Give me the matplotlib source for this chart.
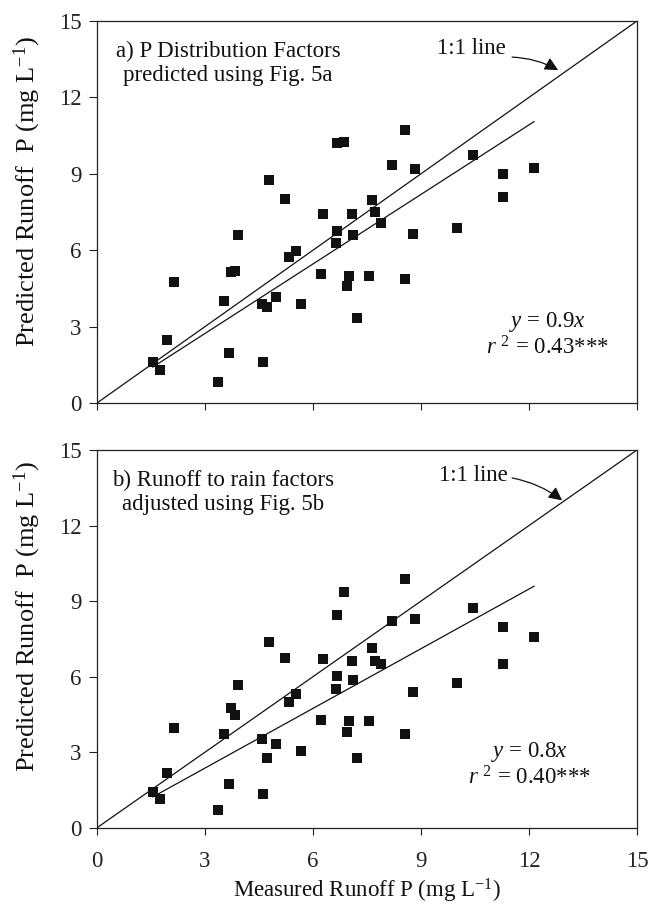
import matplotlib
matplotlib.use("Agg")
import matplotlib.pyplot as plt

plt.rcParams['font.family'] = ['Liberation Serif', 'DejaVu Serif']
plt.rcParams['mathtext.fontset'] = 'custom'
plt.rcParams['mathtext.rm'] = 'Liberation Serif'
plt.rcParams['mathtext.it'] = 'Liberation Serif:italic'

# measured runoff P (same sites in both panels)
measured = [1.55, 1.75, 1.94, 2.14, 3.35, 3.66, 3.53, 3.73, 3.84, 3.92,
            4.61, 4.57, 4.71, 4.96, 4.78, 5.22, 5.32, 5.53, 5.68, 6.22,
            6.29, 6.66, 6.86, 6.66, 6.63, 7.07, 7.10, 7.00, 6.94, 7.22,
            7.63, 7.56, 7.73, 7.89, 8.55, 8.20, 8.84, 8.78, 8.55, 10.01,
            10.45, 11.28, 11.28, 12.14]
pred_a = [1.62, 1.30, 2.47, 4.74, 0.84, 1.96, 4.00, 5.15, 5.20, 6.60,
          1.62, 3.87, 3.78, 4.15, 8.74, 8.02, 5.73, 5.97, 3.89, 5.05,
          7.43, 10.19, 10.23, 6.77, 6.27, 7.43, 6.60, 4.99, 4.59, 3.32,
          7.97, 4.97, 7.51, 7.08, 10.72, 9.34, 9.19, 6.62, 4.87, 6.88,
          9.72, 8.99, 8.10, 9.24]
pred_b = [1.41, 1.13, 2.16, 3.95, 0.70, 1.74, 3.71, 4.74, 4.48, 5.67,
          1.34, 3.51, 2.76, 3.32, 7.36, 6.73, 4.98, 5.31, 3.06, 4.28,
          6.69, 8.45, 9.35, 6.04, 5.50, 6.63, 5.87, 4.24, 3.80, 2.76,
          7.15, 4.25, 6.62, 6.50, 9.86, 8.22, 8.29, 5.40, 3.72, 5.76,
          8.74, 7.96, 6.49, 7.59]

slopes = [0.91, 0.79]
eq_text = ['$y$ = 0.9$x$', '$y$ = 0.8$x$']
r2_text = ['$r$ $^{2}$ = 0.43***', '$r$ $^{2}$ = 0.40***']
panel_text = ['a) P Distribution Factors\npredicted using Fig. 5a',
              'b) Runoff to rain factors\nadjusted using Fig. 5b']
ticks = [0, 3, 6, 9, 12, 15]

FS = 16.5
INK = '#111111'

fig = plt.figure(figsize=(6.49, 9.08), dpi=100)
ax_a = fig.add_axes([0.1495, 0.5562, 0.832, 0.4207])
ax_b = fig.add_axes([0.1495, 0.0884, 0.832, 0.416])

panels = [(ax_a, pred_a), (ax_b, pred_b)]
label_pos = [(3.64, 14.2), (3.5, 14.2)]
eq_pos = [(12.5, 3.18, 2.16), (12.02, 3.0, 1.97)]
one_pos = [(11.36, 13.9), (11.42, 14.0)]
arrow_pos = [((11.53, 13.58), (12.81, 13.07)), ((11.53, 13.89), (12.92, 13.0))]
ylab_y = [0.553, 0.558]

for i, (ax, pred) in enumerate(panels):
    ax.set_xlim(0, 15)
    ax.set_ylim(0, 15)
    ax.set_xticks(ticks)
    ax.set_yticks(ticks)
    ax.tick_params(axis='x', direction='out', length=5, width=0.8,
                   labelsize=FS, pad=12, colors='#222222')
    ax.tick_params(axis='y', direction='out', length=6, width=0.8,
                   labelsize=FS, pad=5, colors='#222222')
    for sp in ax.spines.values():
        sp.set_linewidth(0.9)
        sp.set_color('#222222')

    ax.plot([0, 15], [0, 15], color=INK, lw=0.9)
    xr = [min(measured), max(measured)]
    ax.plot(xr, [slopes[i] * v for v in xr], color=INK, lw=0.9)
    ax.plot(measured, pred, 's', color=INK, markersize=7.2,
            markeredgewidth=0)

    px, py = label_pos[i]
    ax.text(px, py, panel_text[i], ha='center', va='top', fontsize=FS,
            linespacing=1.15, color=INK)
    ex, ey1, ey2 = eq_pos[i]
    ax.text(ex, ey1, eq_text[i], ha='center', va='center', fontsize=FS,
            color=INK)
    ax.text(ex, ey2, r2_text[i], ha='center', va='center', fontsize=FS,
            color=INK)

    tail, head = arrow_pos[i]
    ax.annotate('', xy=head, xytext=tail,
                arrowprops=dict(arrowstyle='-|>', color=INK, lw=0.9,
                                mutation_scale=20, shrinkA=0, shrinkB=0,
                                connectionstyle='arc3,rad=-0.12'))
    ax.text(one_pos[i][0], one_pos[i][1], '1:1 line', ha='right',
            va='center', fontsize=FS, color=INK)

    ax.set_ylabel('Predicted Runoff  P (mg L$^{-1}$)', fontsize=19,
                  color=INK)
    ax.yaxis.set_label_coords(-0.1, ylab_y[i])

ax_a.set_xticklabels([])
ax_b.set_xlabel('Measured Runoff P (mg L$^{-1}$)', fontsize=FS,
                labelpad=3, color=INK)

fig.savefig('out.png', dpi=100)
